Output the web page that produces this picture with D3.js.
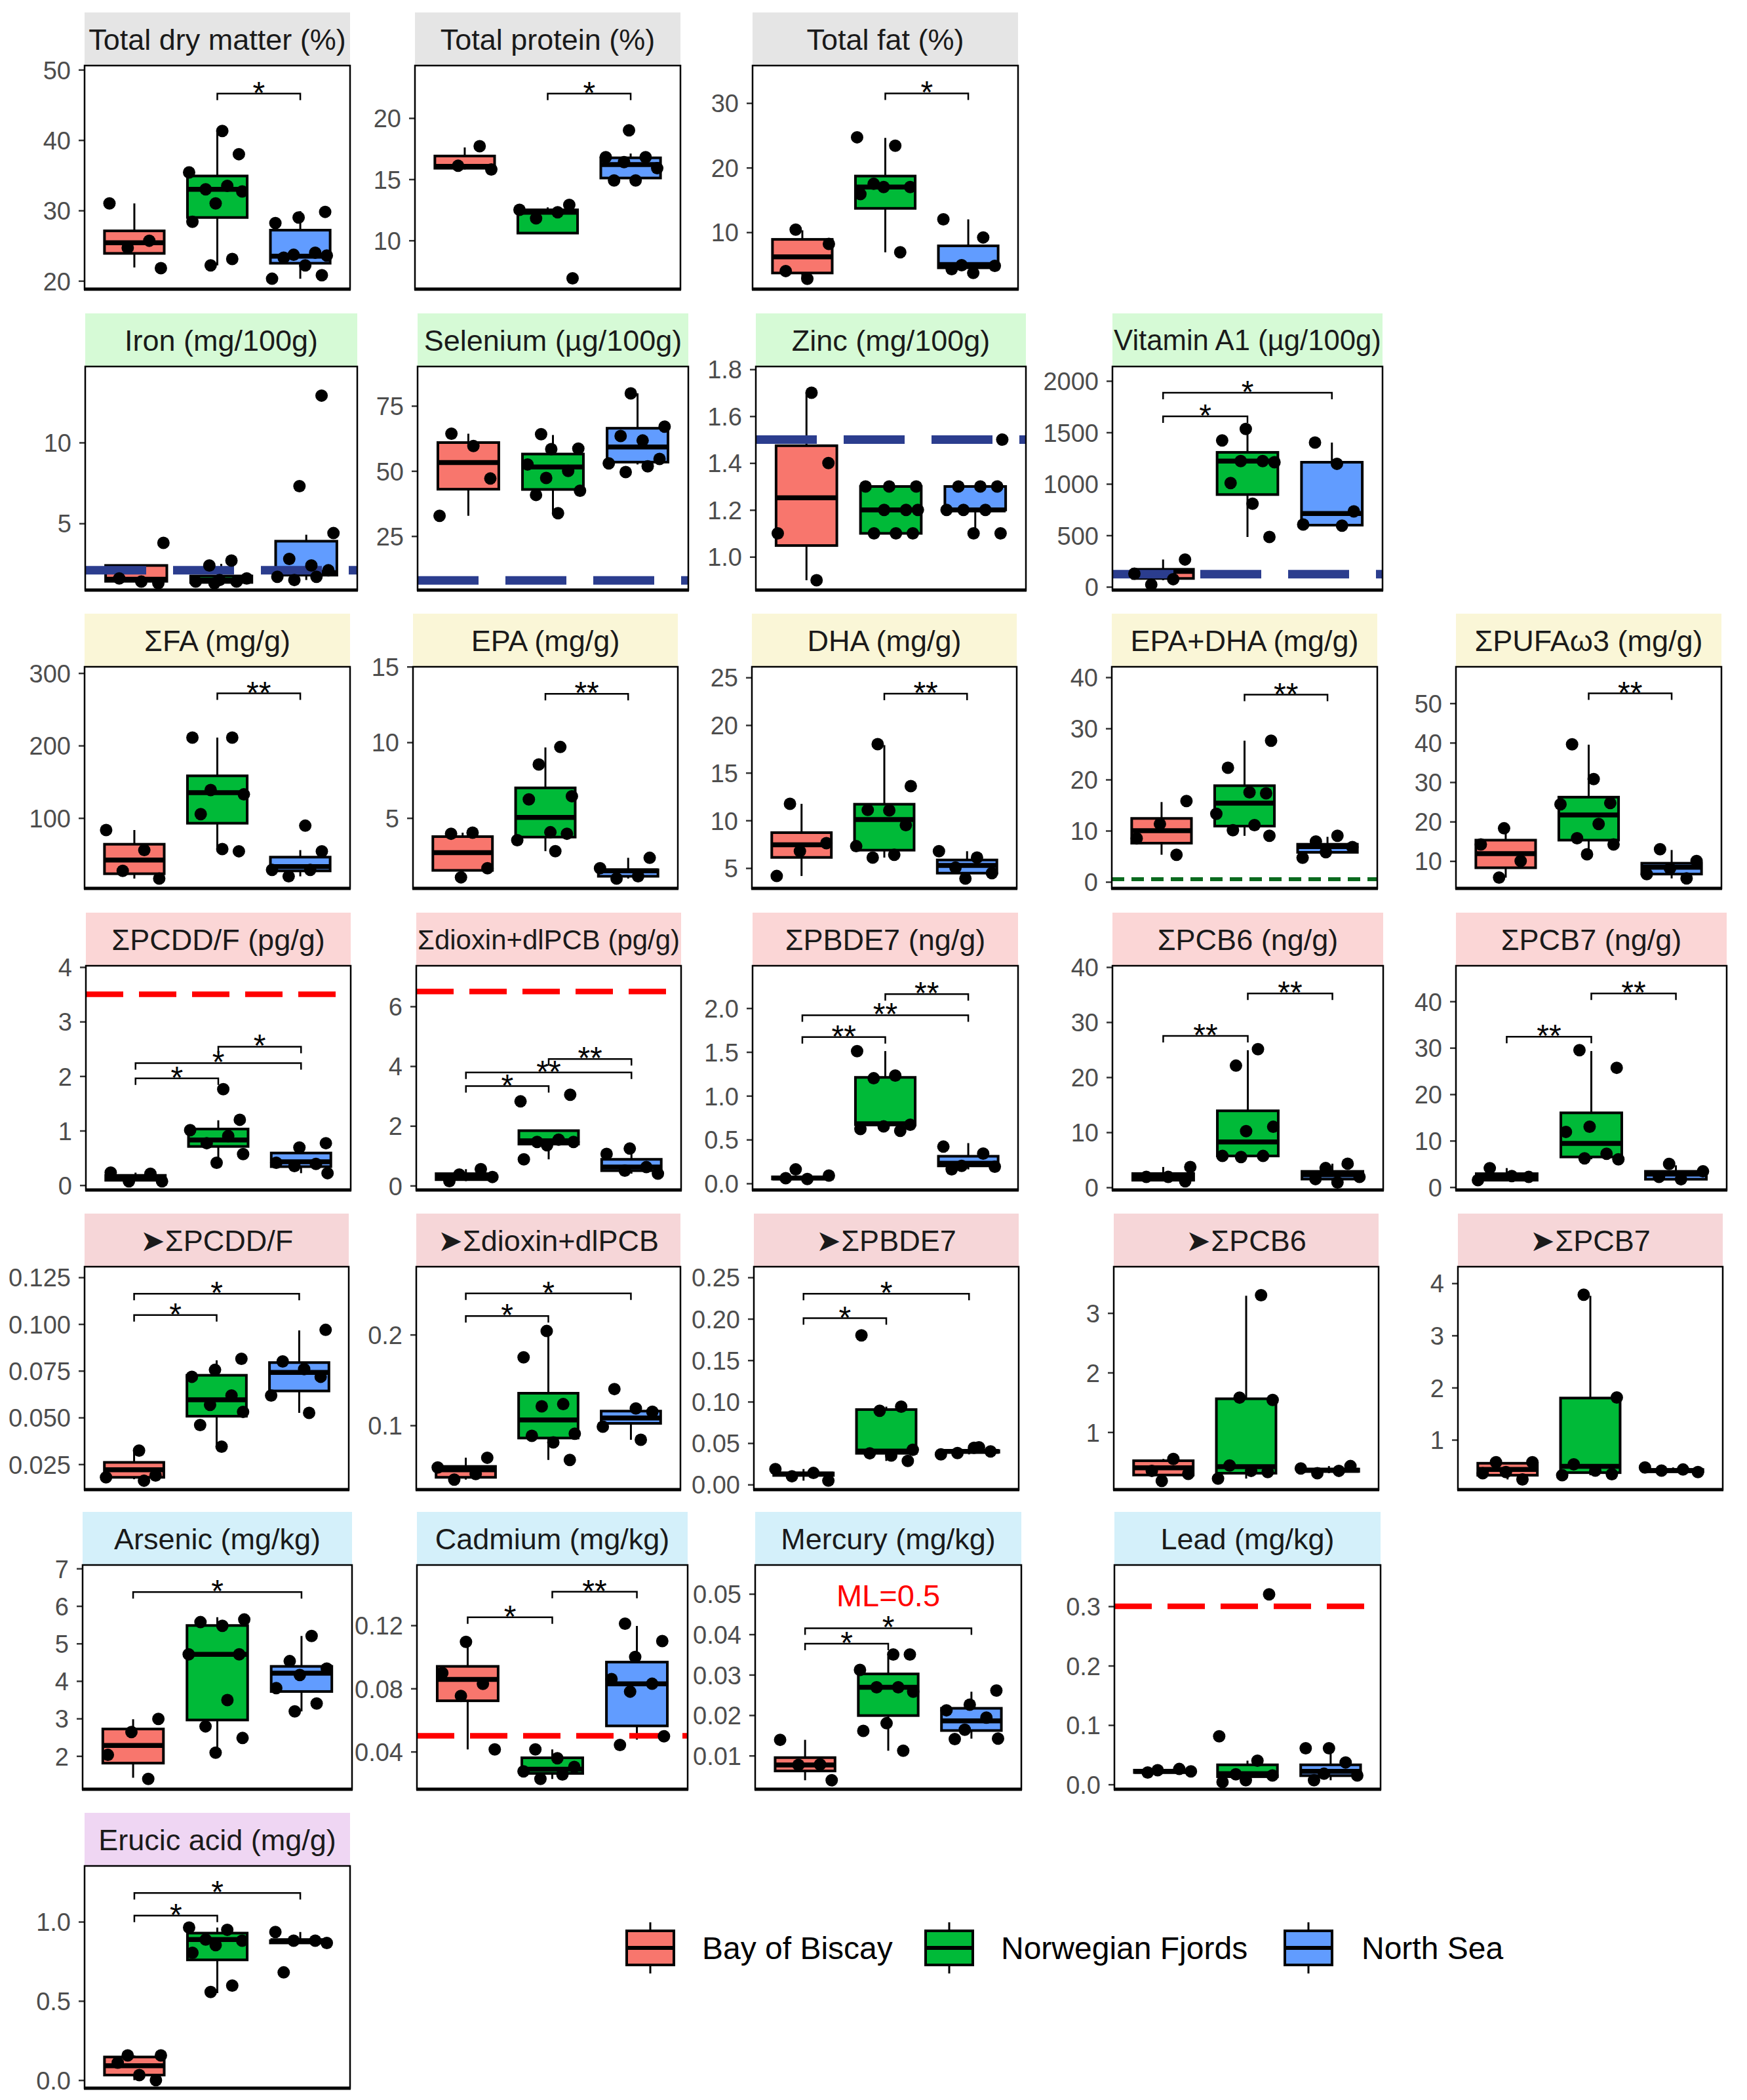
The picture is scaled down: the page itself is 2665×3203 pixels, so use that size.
<!DOCTYPE html>
<html><head><meta charset="utf-8">
<script src="https://cdn.jsdelivr.net/npm/d3@7"></script>
<style>body{margin:0;background:#fff}</style>
</head><body><svg id="chart"></svg>
<script>
// ---------------- DATA ----------------
const groups = ["Bay of Biscay", "Norwegian Fjords", "North Sea"];

const panelTitles = [
  "Total dry matter (%)", "Total protein (%)", "Total fat (%)",
  "Iron (mg/100g)", "Selenium (µg/100g)", "Zinc (mg/100g)", "Vitamin A1 (µg/100g)",
  "ΣFA (mg/g)", "EPA (mg/g)", "DHA (mg/g)", "EPA+DHA (mg/g)", "ΣPUFAω3 (mg/g)",
  "ΣPCDD/F (pg/g)", "Σdioxin+dlPCB (pg/g)", "ΣPBDE7 (ng/g)", "ΣPCB6 (ng/g)", "ΣPCB7 (ng/g)",
  "➤ΣPCDD/F", "➤Σdioxin+dlPCB", "➤ΣPBDE7", "➤ΣPCB6", "➤ΣPCB7",
  "Arsenic (mg/kg)", "Cadmium (mg/kg)", "Mercury (mg/kg)", "Lead (mg/kg)",
  "Erucic acid (mg/g)"
];

const yTickLabels = [
  ["20","30","40","50"], ["10","15","20"], ["10","20","30"],
  ["5","10"], ["25","50","75"], ["1.0","1.2","1.4","1.6","1.8"], ["0","500","1000","1500","2000"],
  ["100","200","300"], ["5","10","15"], ["5","10","15","20","25"], ["0","10","20","30","40"], ["10","20","30","40","50"],
  ["0","1","2","3","4"], ["0","2","4","6"], ["0.0","0.5","1.0","1.5","2.0"], ["0","10","20","30","40"], ["0","10","20","30","40"],
  ["0.025","0.050","0.075","0.100","0.125"], ["0.1","0.2"], ["0.00","0.05","0.10","0.15","0.20","0.25"], ["1","2","3"], ["1","2","3","4"],
  ["2","3","4","5","6","7"], ["0.04","0.08","0.12"], ["0.01","0.02","0.03","0.04","0.05"], ["0.0","0.1","0.2","0.3"],
  ["0.0","0.5","1.0"]
];

const yDomains = [
  [18.82, 50.59], [6.02, 24.29], [1.2, 35.8],
  [0.878, 14.70], [4.28, 90.1], [0.858, 1.812], [-31.8, 2140],
  [2.87, 308.7], [0.35, 14.99], [2.87, 26.12], [-1.28, 42.05], [3.07, 59.25],
  [-0.088, 4.024], [-0.146, 7.36], [-0.075, 2.484], [-0.476, 40.24], [-0.61, 47.67],
  [0.01143, 0.1307], [0.02916, 0.2749], [-0.0061, 0.2629], [0.0349, 3.778], [0.0448, 4.318],
  [1.114, 7.093], [0.01619, 0.1582], [0.00168, 0.05714], [-0.0081, 0.3695],
  [-0.051, 1.352]
];

// box statistics: [Bay of Biscay, Norwegian Fjords, North Sea]
const boxQ1 = [
  [23.9,29.0,22.5],[15.9,10.6,15.1],[3.7,13.7,4.5],
  [1.42,1.35,1.8],[43.0,42.9,53.4],[1.048,1.10,1.20],[81,896,599],
  [23.1,92.8,27],[1.54,3.74,1.15],[6.12,6.88,4.47],[7.56,10.9,5.77],[8.3,15.3,6.7],
  [0.09,0.71,0.34],[0.20,1.39,0.50],[0.05,0.67,0.20],[1.3,5.7,1.5],[1.5,6.5,1.7],
  [0.018,0.0507,0.0642],[0.0427,0.086,0.1022],[0.011,0.0377,0.039],[0.28,0.31,0.34],[0.32,0.37,0.39],
  [1.81,2.96,3.72],[0.0722,0.0262,0.0563],[0.0062,0.0199,0.0162],[0.020,0.013,0.0147],
  [0.032,0.759,0.866]
];
const boxMedian = [
  [25.4,33.0,23.5],[16.05,12.3,16.2],[6.2,17.0,5.0],
  [1.55,1.5,1.95],[53.2,51.5,59.2],[1.252,1.20,1.20],[149,1221,711],
  [42.1,135,33],[2.71,5.04,1.51],[7.45,10.1,5.28],[10.0,15.4,6.9],[11.9,21.7,8.45],
  [0.13,0.83,0.43],[0.29,1.50,0.62],[0.062,0.68,0.23],[1.9,8.25,2.3],[2.2,9.4,2.8],
  [0.022,0.0595,0.0741],[0.0511,0.106,0.1082],[0.0127,0.0403,0.040],[0.40,0.42,0.36],[0.43,0.49,0.41],
  [2.28,4.71,4.21],[0.0857,0.0289,0.0829],[0.0077,0.0269,0.0186],[0.022,0.018,0.022],
  [0.091,0.887,0.88]
];
const boxQ3 = [
  [27.1,34.9,27.2],[16.9,12.5,16.75],[8.9,18.7,7.9],
  [2.4,1.75,3.9],[60.9,56.5,66.4],[1.474,1.30,1.30],[170,1306,1210],
  [63.8,158.2,46],[3.77,6.99,1.58],[8.72,11.7,5.85],[12.4,18.8,7.35],[15.3,26.2,9.45],
  [0.18,1.03,0.59],[0.40,1.84,0.88],[0.075,1.21,0.31],[2.5,13.9,2.9],[2.9,16.0,3.4],
  [0.026,0.0726,0.0794],[0.0547,0.1354,0.1157],[0.014,0.0905,0.041],[0.52,1.56,0.38],[0.55,1.80,0.43],
  [2.72,5.48,4.39],[0.094,0.0361,0.0967],[0.0095,0.0302,0.0217],[0.024,0.033,0.033],
  [0.146,0.928,0.88]
];
const whiskerLow = [
  [21.9,22.2,20.3],[15.8,10.6,15.0],[2.8,6.9,4.5],
  [1.3,1.3,1.5],[32.8,33.6,52.5],[0.90,1.10,1.10],[64,484,594],
  [16.4,54.1,19.5],[1.08,2.81,1.0],[4.17,6.1,3.9],[5.3,9.0,4.7],[5.8,11.7,5.6],
  [0.07,0.45,0.22],[0.15,0.88,0.40],[0.05,0.60,0.16],[1.1,5.5,0.9],[1.5,6.0,1.7],
  [0.017,0.0344,0.0525],[0.0402,0.0619,0.0841],[0.0047,0.0285,0.0364],[0.18,0.22,0.31],[0.24,0.32,0.38],
  [1.42,2.09,3.19],[0.0414,0.0227,0.0476],[0.0039,0.0112,0.0142],[0.020,0.004,0.007],
  [0.0,0.549,0.866]
];
const whiskerHigh = [
  [31.0,41.3,29.9],[17.6,12.7,17.1],[10.3,24.6,12.0],
  [2.4,2.5,4.3],[64.3,63.8,79.8],[1.70,1.30,1.30],[265,1550,1401],
  [83.4,211,55.7],[4.03,9.66,2.37],[11.74,17.9,6.77],[15.6,27.6,8.8],[18.3,39.5,12.8],
  [0.23,1.19,0.71],[0.55,1.84,1.21],[0.09,1.51,0.46],[3.7,24.9,4.3],[4.1,29.3,4.7],
  [0.032,0.0806,0.0966],[0.0643,0.2036,0.1186],[0.0187,0.094,0.0443],[0.55,3.29,0.43],[0.57,3.76,0.47],
  [2.98,5.70,5.2],[0.1095,0.0414,0.1196],[0.0139,0.0345,0.0258],[0.026,0.04,0.061],
  [0.156,0.963,0.935]
];

// individual samples per group
const samplePoints = [
  [[31.0,25.7,24.7,21.8],[41.3,38.0,35.4,33.5,33.0,32.7,31.0,28.4,23.1,22.2],[29.8,29.0,28.2,24.0,23.7,23.6,23.3,22.2,20.8,20.3]],
  [[17.7,16.1,15.8],[12.9,12.5,12.3,11.8,6.9],[19.0,16.8,16.8,16.4,15.9,14.9,14.9]],
  [[10.4,8.2,4.0,2.8],[24.7,23.4,17.5,17.0,17.0,15.9,6.9],[12.0,9.2,4.9,4.8,4.3,3.7]],
  [[3.8,1.6,1.4,1.3],[2.7,2.4,1.6,1.5,1.4,1.4,1.3],[12.9,7.3,4.4,2.8,2.4,2.1,1.7,1.7,1.5]],
  [[64.3,59.6,47.1,32.8],[64.1,58.6,58.4,52.5,50.0,47.3,42.4,40.8,33.8],[79.8,67.0,63.4,61.7,54.6,52.9,51.8,49.6]],
  [[1.70,1.40,1.10,0.90],[1.3,1.3,1.3,1.2,1.2,1.2,1.1,1.1,1.1],[1.5,1.3,1.3,1.3,1.2,1.2,1.2,1.1,1.1]],
  [[265,127,74,21],[1533,1422,1221,1221,1210,1008,807,484],[1401,1195,732,605,594]],
  [[83.4,55.7,27.0,16.4],[211,211,138.6,132.6,105.4,57.2,54.1],[89.4,54,28.5,28.5,19.5]],
  [[4.03,3.96,1.68,1.08],[9.69,8.54,6.44,6.23,4.06,3.96,3.53,2.81],[2.37,1.68,1.15,1.0]],
  [[11.74,7.61,6.77,4.17],[18.0,13.6,11.1,11.05,9.5,7.3,6.4,6.1],[6.77,6.1,5.05,4.47,3.9]],
  [[15.8,11.3,8.5,5.3],[27.6,22.3,17.5,17.3,13.3,11.1,10.1,9.0],[9.0,7.9,6.8,5.8,4.7]],
  [[18.3,14.2,10.0,5.8],[39.6,30.8,24.7,24.4,19.4,15.8,14.2,11.7],[13.0,10.0,8.1,6.7,5.6]],
  [[0.23,0.21,0.07,0.07],[1.76,1.20,1.01,0.90,0.77,0.57,0.41],[0.77,0.69,0.41,0.39,0.35,0.22]],
  [[0.55,0.37,0.29,0.15],[3.04,2.82,1.54,1.46,1.46,1.35,0.88],[1.24,1.06,0.62,0.50,0.40]],
  [[0.16,0.09,0.06,0.05],[1.51,1.23,1.20,0.67,0.65,0.62,0.60],[0.42,0.34,0.20,0.19,0.16]],
  [[3.7,1.9,1.9,1.1],[25.1,22.1,11.0,10.2,5.7,5.7,5.5],[4.3,3.5,1.9,1.5,0.9]],
  [[4.1,2.4,2.2,1.5],[29.5,25.7,13.0,11.9,7.2,6.2,6.0],[5.0,3.4,2.2,1.7]],
  [[0.0323,0.019,0.018,0.0162],[0.0814,0.0755,0.0718,0.0618,0.0568,0.053,0.046,0.0344],[0.0969,0.080,0.0759,0.0718,0.0618,0.0525]],
  [[0.0643,0.0535,0.0463,0.0402],[0.204,0.175,0.1234,0.121,0.0908,0.0884,0.0812,0.0619],[0.140,0.1186,0.115,0.0986,0.0841]],
  [[0.0187,0.014,0.010,0.0047],[0.180,0.094,0.089,0.042,0.0377,0.035,0.0285],[0.0443,0.040,0.0364,0.045,0.038]],
  [[0.55,0.35,0.30,0.18],[3.30,1.58,1.54,0.44,0.35,0.33,0.22],[0.43,0.39,0.35,0.31]],
  [[0.57,0.57,0.38,0.36,0.24],[3.78,1.81,0.53,0.41,0.34,0.32],[0.47,0.43,0.41,0.38]],
  [[2.99,2.64,2.03,1.39],[5.64,5.57,5.47,4.71,4.71,3.49,2.79,2.48,2.09],[5.2,4.53,4.33,4.16,3.81,3.40,3.19]],
  [[0.1095,0.0898,0.0829,0.0753,0.0414],[0.0414,0.0358,0.0303,0.0275,0.0255,0.0227],[0.121,0.110,0.100,0.086,0.083,0.078,0.0497,0.0442]],
  [[0.0139,0.0078,0.0077,0.0039],[0.035,0.035,0.0312,0.0269,0.0269,0.0258,0.018,0.0161,0.0112],[0.0261,0.0226,0.0212,0.0194,0.0164,0.0142,0.0141]],
  [[0.026,0.024,0.022,0.020],[0.32,0.081,0.04,0.017,0.015,0.007,0.004],[0.061,0.061,0.037,0.018,0.015,0.007]],
  [[0.156,0.156,0.11,0.032,0.0],[0.963,0.949,0.887,0.88,0.852,0.804,0.597,0.556],[0.935,0.88,0.88,0.866,0.68]]
];

// significance brackets: [groupA, groupB, level, label]
const sigBrackets = [
  [[1,2,46.6,"*"]], [[1,2,22.0,"*"]], [[1,2,31.5,"*"]],
  [], [], [], [[0,1,1656,"*"],[0,2,1885,"*"]],
  [[1,2,272,"**"]], [[1,2,13.2,"**"]], [[1,2,23.3,"**"]], [[1,2,36.6,"**"]], [[1,2,52.5,"**"]],
  [[0,1,1.96,"*"],[0,2,2.24,"*"],[1,2,2.54,"*"]], [[0,1,3.33,"*"],[0,2,3.79,"**"],[1,2,4.24,"**"]],
  [[0,1,1.67,"**"],[0,2,1.92,"**"],[1,2,2.16,"**"]], [[0,1,27.5,"**"],[1,2,35.2,"**"]], [[0,1,32.4,"**"],[1,2,41.7,"**"]],
  [[0,1,0.1048,"*"],[0,2,0.1162,"*"]], [[0,1,0.2205,"*"],[0,2,0.2455,"*"]], [[0,1,0.2007,"*"],[0,2,0.2302,"*"]], [], [],
  [[0,2,6.37,"*"]], [[0,1,0.1251,"*"],[1,2,0.1413,"**"]], [[0,1,0.0377,"*"],[0,2,0.0415,"*"]], [],
  [[0,1,1.039,"*"],[0,2,1.181,"*"]]
];

// reference / limit lines
const thresholdValues = [null,null,null, 2.1,8,1.5,123, null,null,null,0.5,null,
  3.5,6.5,null,null,null, null,null,null,null,null, null,0.05,null,0.30, null];
const panelNotes = {24: "ML=0.5"};

// ---------------- LAYOUT & STYLE ----------------
const groupColors = ["#F8766D", "#00BA38", "#619CFF"];
const panelLayout = [
  [129,100,405,341],[633,100,405,341],[1148,100,405,341],
  [130,559,415,341],[637,559,413,341],[1153,559,412,341],[1697,559,412,341],
  [129,1017,405,338],[630,1017,404,338],[1147,1017,404,338],[1696,1017,405,338],[2221,1017,405,338],
  [131,1473,404,342],[635,1473,404,342],[1148,1473,405,342],[1697,1473,413,342],[2221,1473,413,342],
  [129,1932,403,340],[635,1932,403,340],[1150,1932,404,340],[1699,1932,404,340],[2224,1932,404,340],
  [126,2387,411,342],[636,2387,413,342],[1152,2387,406,342],[1700,2387,406,342],
  [129,2846,405,339]
];
const stripFills = ["#E5E5E5","#E5E5E5","#E5E5E5",
  "#D6FAD6","#D6FAD6","#D6FAD6","#D6FAD6",
  "#FAF6D7","#FAF6D7","#FAF6D7","#FAF6D7","#FAF6D7",
  "#FBD6D6","#FBD6D6","#FBD6D6","#FBD6D6","#FBD6D6",
  "#F6D6D8","#F6D6D8","#F6D6D8","#F6D6D8","#F6D6D8",
  "#D4F0FA","#D4F0FA","#D4F0FA","#D4F0FA",
  "#EFD6F3"];
const thresholdStyle = {
  navy: {stroke:"#2B3D8E", width:13, dash:"93,41"},
  green:{stroke:"#0A6A1E", width:6, dash:"19,11"},
  red:  {stroke:"#FF0000", width:8.5, dash:"57,24"}
};
const thresholdKind = {3:"navy",4:"navy",5:"navy",6:"navy",10:"green",12:"red",13:"red",23:"red",25:"red"};
const jitterPattern = [-0.30,0.18,-0.08,0.32,-0.20,0.06,0.26,-0.34,0.12,-0.14,0.30,-0.02];

const FONT = "'Liberation Sans', Arial, Helvetica, sans-serif";
const STRIP_H = 81;

const svg = d3.select("#chart").attr("width", 2665).attr("height", 3203)
  .style("font-family", FONT);
svg.append("rect").attr("width", 2665).attr("height", 3203).attr("fill", "#fff");
const defs = svg.append("defs");

panelTitles.forEach((title, p) => {
  const [px, py, pw, ph] = panelLayout[p];
  const g = svg.append("g");
  const x = d3.scaleLinear().domain([0.4, 3.6]).range([px, px + pw]);
  const y = d3.scaleLinear().domain(yDomains[p]).range([py + ph, py]);

  // strip
  g.append("rect").attr("x", px).attr("y", py - STRIP_H).attr("width", pw).attr("height", STRIP_H)
    .attr("fill", stripFills[p]);
  let fs = 45;
  const st = g.append("text").attr("x", px + pw / 2).attr("text-anchor", "middle")
    .attr("fill", "#1A1A1A").attr("font-size", fs).text(title);
  const tl = st.node().getComputedTextLength();
  if (tl > pw - 4) { fs = fs * (pw - 4) / tl; st.attr("font-size", fs); }
  st.attr("y", py - STRIP_H / 2 + 0.358 * fs);

  // clip
  defs.append("clipPath").attr("id", "clip" + p).append("rect")
    .attr("x", px).attr("y", py).attr("width", pw).attr("height", ph);
  const inner = g.append("g").attr("clip-path", `url(#clip${p})`);

  // y axis
  const tickVals = yTickLabels[p].map(Number);
  const axis = d3.axisLeft(y).tickValues(tickVals)
    .tickFormat((d, i) => yTickLabels[p][i]).tickSize(9).tickPadding(12);
  const ag = g.append("g").attr("transform", `translate(${px},0)`).call(axis);
  ag.select(".domain").remove();
  ag.selectAll(".tick line").attr("stroke", "#333").attr("stroke-width", 2.5);
  ag.selectAll(".tick text").attr("font-size", 38).attr("fill", "#4D4D4D")
    .attr("font-family", FONT).attr("dy", "0.36em");

  const halfW = (x(0.36) - x(0));
  // boxes
  groups.forEach((grp, i) => {
    const cx = x(i + 1);
    inner.append("line").attr("x1", cx).attr("x2", cx)
      .attr("y1", y(boxQ3[p][i])).attr("y2", y(whiskerHigh[p][i]))
      .attr("stroke", "#000").attr("stroke-width", 3);
    inner.append("line").attr("x1", cx).attr("x2", cx)
      .attr("y1", y(boxQ1[p][i])).attr("y2", y(whiskerLow[p][i]))
      .attr("stroke", "#000").attr("stroke-width", 3);
    const yTop = y(boxQ3[p][i]), yBot = y(boxQ1[p][i]);
    inner.append("rect").attr("x", cx - halfW).attr("width", 2 * halfW)
      .attr("y", yTop).attr("height", Math.max(0.5, yBot - yTop))
      .attr("fill", groupColors[i]).attr("stroke", "#000").attr("stroke-width", 4);
    inner.append("line").attr("x1", cx - halfW).attr("x2", cx + halfW)
      .attr("y1", y(boxMedian[p][i])).attr("y2", y(boxMedian[p][i]))
      .attr("stroke", "#000").attr("stroke-width", 7.5);
  });

  // threshold line
  if (thresholdValues[p] !== null) {
    const s = thresholdStyle[thresholdKind[p]];
    inner.append("line").attr("x1", px).attr("x2", px + pw)
      .attr("y1", y(thresholdValues[p])).attr("y2", y(thresholdValues[p]))
      .attr("stroke", s.stroke).attr("stroke-width", s.width).attr("stroke-dasharray", s.dash);
  }

  // points
  groups.forEach((grp, i) => {
    samplePoints[p][i].forEach((v, k) => {
      const j = jitterPattern[(k + i * 5 + p) % jitterPattern.length];
      inner.append("circle").attr("cx", x(i + 1 + j)).attr("cy", y(v)).attr("r", 9.5)
        .attr("fill", "#000");
    });
  });

  // significance brackets
  sigBrackets[p].forEach(([a, b, lvl, lab]) => {
    const x1 = x(a + 1), x2 = x(b + 1), yl = y(lvl);
    g.append("path").attr("d", `M${x1},${yl + 10}V${yl}H${x2}V${yl + 10}`)
      .attr("fill", "none").attr("stroke", "#000").attr("stroke-width", 2.5);
    g.append("text").attr("x", (x1 + x2) / 2).attr("y", yl + 15).attr("text-anchor", "middle")
      .attr("font-size", 48).attr("fill", "#000").text(lab);
  });

  if (panelNotes[p]) {
    g.append("text").attr("x", px + pw / 2).attr("y", 2450).attr("text-anchor", "middle")
      .attr("font-size", 47).attr("fill", "#FF0000").text(panelNotes[p]);
  }

  // panel border
  g.append("rect").attr("x", px).attr("y", py).attr("width", pw).attr("height", ph)
    .attr("fill", "none").attr("stroke", "#000").attr("stroke-width", 2.5);
  g.append("line").attr("x1", px - 1).attr("x2", px + pw + 1).attr("y1", py + ph).attr("y2", py + ph)
    .attr("stroke", "#000").attr("stroke-width", 5);
});

// legend
const legendKeyX = [956, 1412, 1960];
const legendTextX = [1071, 1527, 2077];
const lg = svg.append("g");
groups.forEach((grp, i) => {
  const kx = legendKeyX[i], kw = 72;
  lg.append("line").attr("x1", kx + kw / 2).attr("x2", kx + kw / 2).attr("y1", 2932).attr("y2", 3010)
    .attr("stroke", "#000").attr("stroke-width", 3);
  lg.append("rect").attr("x", kx).attr("y", 2945).attr("width", kw).attr("height", 52)
    .attr("fill", groupColors[i]).attr("stroke", "#000").attr("stroke-width", 4);
  lg.append("line").attr("x1", kx).attr("x2", kx + kw).attr("y1", 2971).attr("y2", 2971)
    .attr("stroke", "#000").attr("stroke-width", 6);
  lg.append("text").attr("x", legendTextX[i]).attr("y", 2971 + 0.358 * 48)
    .attr("font-size", 48).attr("fill", "#000").text(grp);
});
</script>
</body></html>
